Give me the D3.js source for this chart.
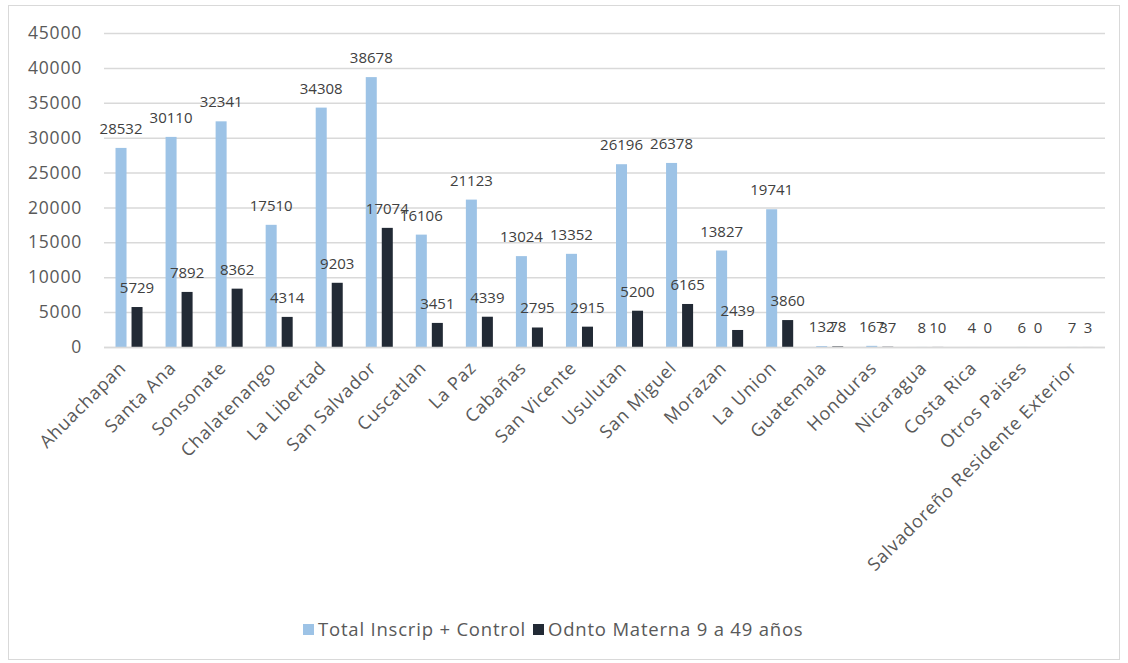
<!DOCTYPE html>
<html lang="es">
<head>
<meta charset="UTF-8">
<title>Inscripciones por departamento</title>
<script src="https://d3js.org/d3.v7.min.js"></script>
<style>
  body { margin: 0; background: #fff; }
  svg text { font-family: "Open Sans", "Noto Sans", sans-serif; }
</style>
</head>
<body>
<svg id="chart" width="1128" height="663"></svg>
<script>
// data
const categories = ["Ahuachapan", "Santa Ana", "Sonsonate", "Chalatenango", "La Libertad", "San Salvador",
  "Cuscatlan", "La Paz", "Cabañas", "San Vicente", "Usulutan", "San Miguel", "Morazan", "La Union",
  "Guatemala", "Honduras", "Nicaragua", "Costa Rica", "Otros Paises", "Salvadoreño Residente Exterior"];
const totalInscrip = [28532, 30110, 32341, 17510, 34308, 38678, 16106, 21123, 13024, 13352, 26196, 26378,
  13827, 19741, 132, 167, 8, 4, 6, 7];
const odntoMaterna = [5729, 7892, 8362, 4314, 9203, 17074, 3451, 4339, 2795, 2915, 5200, 6165,
  2439, 3860, 78, 37, 10, 0, 0, 3];
const seriesNames = ["Total Inscrip + Control", "Odnto Materna 9 a 49 años"];
const yTicks = [0, 5000, 10000, 15000, 20000, 25000, 30000, 35000, 40000, 45000];

const colors = ["#9DC3E6", "#222A35"];
const svg = d3.select("#chart");

// outer chart border
svg.append("rect")
  .attr("x", 8.5).attr("y", 5.5)
  .attr("width", 1111).attr("height", 654)
  .attr("fill", "none").attr("stroke", "#D9D9D9");

const plot = { left: 104, right: 1105, top: 33, bottom: 347 };

const x = d3.scaleBand()
  .domain(categories)
  .range([plot.left, plot.right])
  .paddingInner(0.46)
  .paddingOuter(0.23);

const xInner = d3.scaleBand()
  .domain([0, 1])
  .range([0, x.bandwidth()])
  .paddingInner(0.3125);

const y = d3.scaleLinear()
  .domain([0, 45000])
  .range([plot.bottom, plot.top]);

// gridlines + y labels
const yAxis = svg.append("g")
  .attr("transform", `translate(${plot.left},0)`)
  .call(d3.axisLeft(y).tickValues(yTicks).tickFormat(d3.format("d"))
    .tickSize(-(plot.right - plot.left)).tickPadding(22));
yAxis.select(".domain").remove();
yAxis.selectAll(".tick line").attr("stroke", "#D9D9D9").attr("stroke-width", 1.5);
yAxis.selectAll(".tick text")
  .attr("fill", "#595959")
  .style("font-size", "17.5px")
  .style("letter-spacing", "0.8px");

// bars
const rows = categories.map((c, i) => ({ cat: c, vals: [totalInscrip[i], odntoMaterna[i]] }));

const groups = svg.selectAll(".grp")
  .data(rows)
  .enter().append("g")
  .attr("class", "grp")
  .attr("transform", d => `translate(${x(d.cat)},0)`);

groups.selectAll("rect")
  .data(d => d.vals.map((v, k) => ({ v, k })))
  .enter().append("rect")
  .attr("x", d => xInner(d.k))
  .attr("width", xInner.bandwidth())
  .attr("y", d => y(d.v))
  .attr("height", d => y(0) - y(d.v))
  .attr("fill", d => colors[d.k]);

groups.selectAll("text.val")
  .data(d => d.vals.map((v, k) => ({ v, k })))
  .enter().append("text")
  .attr("class", "val")
  .attr("x", d => xInner(d.k) + xInner.bandwidth() / 2)
  .attr("y", d => y(d.v) - 14)
  .attr("text-anchor", "middle")
  .attr("fill", "#404040")
  .style("font-size", "15px")
  .text(d => d.v);

// x axis line
svg.append("line")
  .attr("x1", plot.left).attr("x2", plot.right)
  .attr("y1", plot.bottom + 0.5).attr("y2", plot.bottom + 0.5)
  .attr("stroke", "#D9D9D9").attr("stroke-width", 1.5);

// rotated category labels
svg.append("g").selectAll("text")
  .data(categories)
  .enter().append("text")
  .attr("transform", d => `translate(${x(d) + x.bandwidth() / 2 - 2},${plot.bottom + 22}) rotate(-45)`)
  .attr("text-anchor", "end")
  .attr("fill", "#595959")
  .style("font-size", "18px")
  .style("letter-spacing", "0.8px")
  .text(d => d);

// legend
const legend = svg.append("g").attr("transform", "translate(303,630)");
const legendX = [0, 230];
seriesNames.forEach((name, k) => {
  const g = legend.append("g").attr("transform", `translate(${legendX[k]},0)`);
  g.append("rect").attr("x", 0).attr("y", -6).attr("width", 11).attr("height", 11).attr("fill", colors[k]);
  g.append("text").attr("x", 15).attr("y", 0).attr("dy", "0.35em")
    .attr("fill", "#595959").style("font-size", "18.5px").style("letter-spacing", "0.8px").text(name);
});
</script>
</body>
</html>
